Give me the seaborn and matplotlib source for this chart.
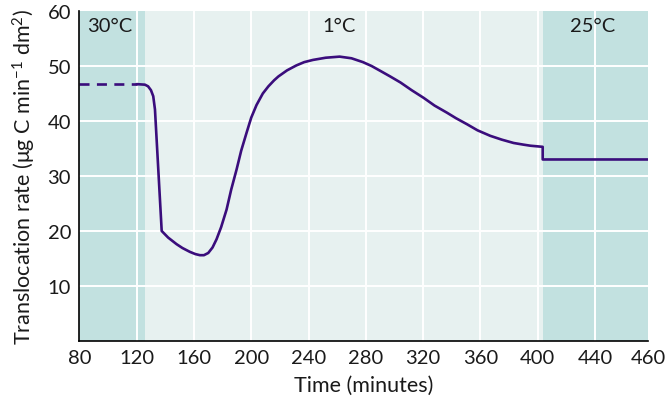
import seaborn as sns
import matplotlib.pyplot as plt
import pandas as pd

# values
# note: the original axis is not linear at the end, the last tick "460"
# sits where ~477 would be if the 40-min spacing continued
tick_pos = [80, 120, 160, 200, 240, 280, 320, 360, 400, 440, 477]
tick_labels = ["80", "120", "160", "200", "240", "280", "320", "360", "400", "440", "460"]
y_ticks = [10, 20, 30, 40, 50, 60]

time_dashed = [80, 120]
rate_dashed = [46.7, 46.7]

time_solid = [120, 125.8, 128, 130, 131.6, 132.8, 137.5, 142, 147.9, 152, 157.2, 161, 164.2,
              167, 170, 173, 175.8, 179, 182.8, 186, 189.8, 193, 196.8, 200, 203.7, 208.1,
              212, 216, 219, 225, 231.5, 237, 243.1, 252, 261.7, 270, 278, 284, 290.2, 297,
              304.2, 312, 320.4, 328, 336.7, 343, 350.7, 358, 366.9, 375, 383.2, 390, 395,
              403.5, 403.5, 477]
rate_solid = [46.7, 46.6, 46.3, 45.6, 44.5, 42.1, 20.0, 18.8, 17.6, 16.9, 16.2, 15.8, 15.6,
              15.6, 16.0, 17.0, 18.5, 20.7, 23.9, 27.5, 31.2, 34.6, 37.9, 40.6, 42.9, 45.0,
              46.3, 47.4, 48.1, 49.2, 50.1, 50.7, 51.1, 51.5, 51.7, 51.4, 50.7, 50.0, 49.1, 48.1,
              47.0, 45.6, 44.2, 42.8, 41.5, 40.5, 39.4, 38.3, 37.3, 36.6, 36.0, 35.7, 35.5,
              35.3, 33.0, 33.0]

phase_edges = [80, 126, 403.5, 477]
phase_labels = ["30°C", "1°C", "25°C"]
phase_label_x = [101.5, 261, 438.5]

dark = "#c2e1e0"
light = "#e7f1f0"
purple = "#3a0d7c"

sns.set_style("white")
plt.rcParams['font.family'] = ['Lato', 'DejaVu Sans']
plt.rcParams['mathtext.fontset'] = 'custom'
plt.rcParams['mathtext.rm'] = 'Lato'
plt.rcParams['mathtext.it'] = 'Lato:italic'
plt.rcParams['mathtext.default'] = 'regular'

fig = plt.figure(figsize=(6.65, 4.02), dpi=100)
ax = fig.add_axes([0.1193, 0.1493, 0.8551, 0.8209])

# temperature phases
ax.axvspan(phase_edges[0], phase_edges[1], color=dark, lw=0, zorder=0)
ax.axvspan(phase_edges[1], phase_edges[2], color=light, lw=0, zorder=0)
ax.axvspan(phase_edges[2], phase_edges[3], color=dark, lw=0, zorder=0)

# white grid
for t in tick_pos[1:-1]:
    ax.axvline(t, color="white", lw=1.4, zorder=1)
for v in y_ticks[:-1]:
    ax.axhline(v, color="white", lw=1.4, zorder=1)

df_d = pd.DataFrame({"time": time_dashed, "rate": rate_dashed})
df_s = pd.DataFrame({"time": time_solid, "rate": rate_solid})
sns.lineplot(data=df_d, x="time", y="rate", ax=ax, color=purple, lw=1.9,
             linestyle=(0, (3.8, 2.8)), sort=False, estimator=None, zorder=3)
sns.lineplot(data=df_s, x="time", y="rate", ax=ax, color=purple, lw=1.9,
             sort=False, estimator=None, zorder=3)

for lab, x in zip(phase_labels, phase_label_x):
    ax.text(x, 57.3, lab, ha="center", va="center", fontsize=14.5, color="#1a1a1a")

ax.set_xlim(80, 477)
ax.set_ylim(0, 60)
ax.set_xticks(tick_pos)
ax.set_xticklabels(tick_labels)
ax.set_yticks(y_ticks)

for s in ["top", "right"]:
    ax.spines[s].set_visible(False)
for s in ["left", "bottom"]:
    ax.spines[s].set_color("black")
    ax.spines[s].set_linewidth(1.2)
    ax.spines[s].set_zorder(4)

ax.tick_params(direction="in", length=5, width=1.2, color="black",
               labelsize=14.5, pad=6, labelcolor="#1a1a1a")

ax.set_xlabel("Time (minutes)", fontsize=15.5, color="#1a1a1a", labelpad=6)
ax.set_ylabel(r"Translocation rate (μg C min$^{-1}$ dm$^{2}$)", fontsize=15.5,
              color="#1a1a1a", labelpad=7)

fig.savefig("out.png", dpi=100)
